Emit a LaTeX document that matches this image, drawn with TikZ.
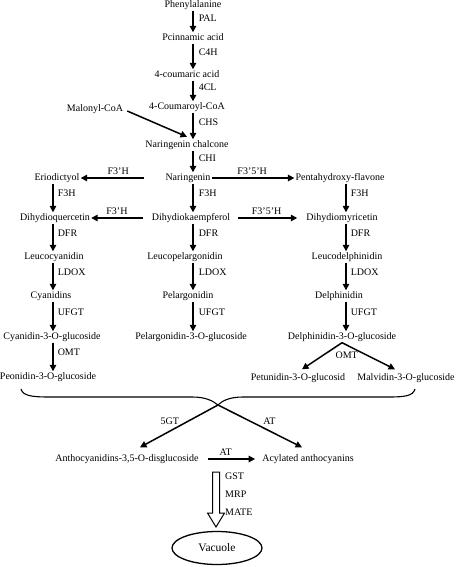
\documentclass[tikz,border=0pt]{standalone}
\usepackage{fontspec}
\setmainfont{Liberation Serif}
\usetikzlibrary{arrows.meta,calc,shapes.geometric}

\begin{document}
\begin{tikzpicture}[x=1pt, y=-1pt,
    met/.style={font=\fontsize{10}{12}\selectfont, inner sep=1pt, text height=7pt, text depth=2pt},
    enz/.style={met},
    arr/.style={line width=1.5pt, -{Triangle[length=6.5pt,width=6.5pt]}}]
    \useasboundingbox (0,0) rectangle (456,567);

    % main column
    \node[met] (phe)  at (193,5)   {Phenylalanine};
    \node[met] (pci)  at (193,38)  {Pcinnamic acid};
    \node[met] (cou)  at (187,75)  {4-coumaric acid};
    \node[met] (cco)  at (187,107) {4-Coumaroyl-CoA};
    \node[met] (mal)  at (95,109)  {Malonyl-CoA};
    \node[met] (chal) at (187,145) {Naringenin chalcone};
    \node[met] (nar)  at (188,178) {Naringenin};
    \node[met] (dhk)  at (191,218) {Dihydiokaempferol};
    \node[met] (lpe)  at (185,257) {Leucopelargonidin};
    \node[met] (pel)  at (188,296) {Pelargonidin};
    \node[met] (peg)  at (191,337) {Pelargonidin-3-O-glucoside};
    % left column
    \node[met] (eri)  at (57,178)  {Eriodictyol};
    \node[met] (dhq)  at (55,218)  {Dihydioquercetin};
    \node[met] (lcy)  at (54,257)  {Leucocyanidin};
    \node[met] (cya)  at (51,296)  {Cyanidins};
    \node[met] (cyg)  at (52,337)  {Cyanidin-3-O-glucoside};
    \node[met] (pog)  at (48,377)  {Peonidin-3-O-glucoside};
    % right column
    \node[met] (pen)  at (340,178) {Pentahydroxy-flavone};
    \node[met] (dhm)  at (342,218) {Dihydiomyricetin};
    \node[met] (lde)  at (347,257) {Leucodelphinidin};
    \node[met] (del)  at (339,296) {Delphinidin};
    \node[met] (deg)  at (342,337) {Delphinidin-3-O-glucoside};
    \node[met] (ptg)  at (298,378) {Petunidin-3-O-glucosid};
    \node[met] (mvg)  at (406,378) {Malvidin-3-O-glucoside};
    % bottom
    \node[met] (ant)  at (127,459) {Anthocyanidins-3,5-O-disglucoside};
    \node[met] (acy)  at (308,459) {Acylated anthocyanins};
    \node[draw, ellipse, line width=1.3pt, minimum width=90pt, minimum height=33pt, inner sep=0pt,
          font=\fontsize{11.5}{13}\selectfont] (vac) at (217,548) {Vacuole};

    \coordinate (cm) at (193,0);
    \coordinate (cl) at (53,0);
    \coordinate (cr) at (346,0);
    \foreach \a/\b/\e in {phe/pci/PAL,pci/cou/C4H,cou/cco/4CL,cco/chal/CHS,chal/nar/CHI,nar/dhk/F3H,dhk/lpe/DFR,lpe/pel/LDOX,pel/peg/UFGT}
        \draw[arr] (\a.south -| cm) -- node[enz, right=4pt, pos=.37] {\e} (\b.north -| cm);
    \foreach \a/\b/\e in {eri/dhq/F3H,dhq/lcy/DFR,lcy/cya/LDOX,cya/cyg/UFGT,cyg/pog/OMT}
        \draw[arr] (\a.south -| cl) -- node[enz, right=3pt, pos=.37] {\e} (\b.north -| cl);
    \foreach \a/\b/\e in {pen/dhm/F3H,dhm/lde/DFR,lde/del/LDOX,del/deg/UFGT}
        \draw[arr] (\a.south -| cr) -- node[enz, right=3pt, pos=.37] {\e} (\b.north -| cr);

    \draw[arr] ([xshift=3pt,yshift=-2pt]mal.east) -- ([yshift=2.5pt]chal.north);
    \draw[arr] ([xshift=-20pt]nar.west) -- node[enz, above, pos=.41] {F3’H} (eri.east);
    \draw[arr] (nar.east) -- node[enz, above, pos=.49] {F3’5’H} (pen.west);
    \draw[arr] ([xshift=-8pt]dhk.west) -- node[enz, above, pos=.5] {F3’H} (dhq.east);
    \draw[arr] ([xshift=7pt]dhk.east) -- node[enz, above, pos=.48] {F3’5’H} ([xshift=-8pt]dhm.west);
    \draw[arr] (deg.south) -- ([xshift=4pt,yshift=3pt]ptg.north);
    \draw[arr] (deg.south) -- node[enz, left=9pt, pos=.5] {OMT} ([xshift=-11pt,yshift=3pt]mvg.north);

    % brace
    \coordinate (tip) at (218,405);
    \draw[line width=1.1pt] (21,389) .. controls (23,396) and (32,397) .. (50,397) -- (192,397)
        .. controls (206,397) and (213,401) .. (tip) .. controls (222,401) and (229,397) .. (243,397)
        -- (388,397) .. controls (405,397) and (413,396) .. (415,389);
    \draw[arr] (tip) -- node[enz, left=6pt, pos=.4] {5GT} ([xshift=13pt,yshift=6pt]ant.north);
    \draw[arr] (tip) -- node[enz, right=10pt, pos=.4] {AT} ([xshift=-6pt,yshift=6pt]acy.north);
    \draw[arr] ([xshift=8pt]ant.east) -- node[enz, above, pos=.38] {AT} ([xshift=-6pt]acy.west);

    % transport
    \coordinate (ht) at (216,472);
    \draw[line width=1pt, fill=white] ($(ht)+(-3.5,0)$) -- ($(ht)+(3.5,0)$) -- ($(ht)+(3.5,41)$) -- ($(ht)+(8.5,41)$)
        -- ($(ht)+(0,55)$) -- ($(ht)+(-8.5,41)$) -- ($(ht)+(-3.5,41)$) -- cycle;
    \foreach \t/\yy in {GST/477,MRP/495,MATE/513}
        \node[enz, anchor=west] at (224,\yy) {\t};
\end{tikzpicture}
\end{document}
